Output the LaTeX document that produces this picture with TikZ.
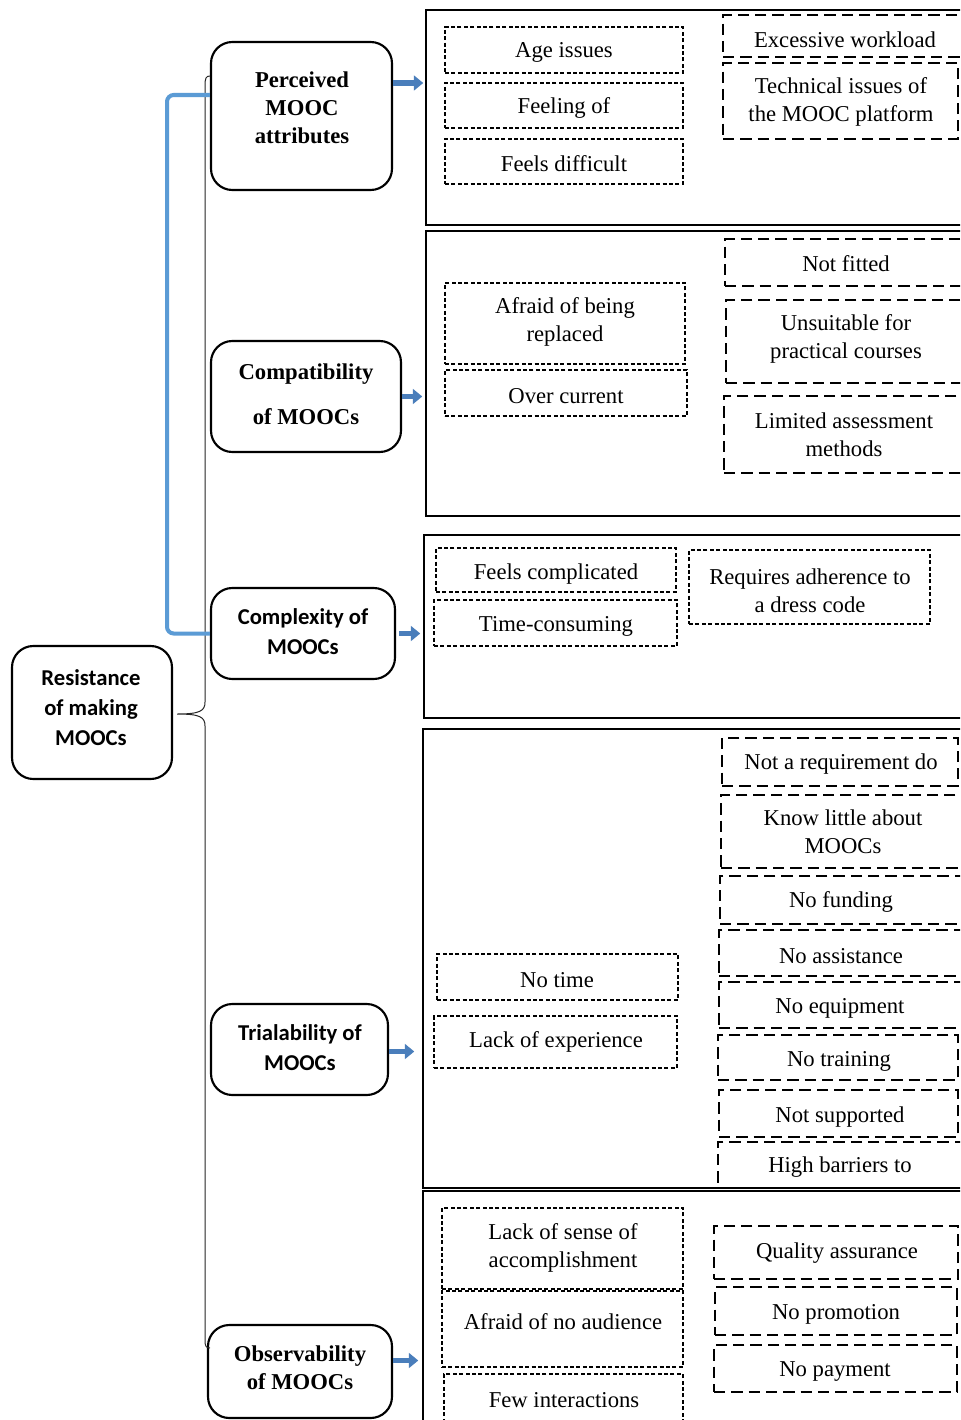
\documentclass[tikz,border=0pt]{standalone}
\usepackage{fontspec}
\setmainfont{Liberation Serif}
\newfontfamily\calib{Carlito}
\usetikzlibrary{fit,calc,arrows.meta}
\definecolor{lineblue}{HTML}{5B9BD5}
\definecolor{arrblue}{HTML}{4A7EBB}
\tikzset{
  catbox/.style={draw, line width=1.6pt, rounded corners=16pt, inner sep=0pt},
  panel/.style={draw, line width=1.1pt, inner sep=0pt},
  fine/.style={draw, line width=1.1pt, dash pattern=on 3pt off 1.8pt, inner sep=0pt},
  coarse/.style={draw, line width=1.4pt, dash pattern=on 8.5pt off 4.5pt, inner sep=0pt},
  txt/.style={font=\fontsize{17}{21}\selectfont, align=center, inner sep=0pt, yshift=-1.5pt},
  btxt/.style={font=\fontsize{17}{21}\selectfont\bfseries, align=center, inner sep=0pt},
  ctxt/.style={font=\calib\fontsize{17}{22.5}\selectfont\bfseries, align=center, inner sep=0pt},
  barrow/.style={arrblue, line width=4pt, -{Triangle[length=7pt,width=11pt]}},
}
\begin{document}
\begin{tikzpicture}[x=0.75pt,y=-0.75pt]
\useasboundingbox (0,0) rectangle (960,1420);
\clip (0,0) rectangle (960,1420);
\fill[white] (0,0) rectangle (960,1420);

% ---------- panels ----------
\node[panel, fit={(426,10) (975,225)}] (p1) {};
\node[panel, fit={(426,231) (975,516)}] (p2) {};
\node[panel, fit={(424,535) (975,718)}] (p3) {};
\node[panel, fit={(423,729) (975,1188)}] (p4) {};
\node[panel, fit={(423,1191) (975,1430)}] (p5) {};

% ---------- category boxes ----------
\node[catbox, fit={(12,646) (172,779)}] (res) {};
\node[ctxt] (rest) at (91,708) {Resistance\\of making\\MOOCs};

\node[catbox, fit={(211,42) (392,190)}] (per) {};
\node[btxt] (pert) at (302,108) {Perceived\\MOOC\\attributes};

\node[catbox, fit={(211,341) (401,452)}] (cmp) {};
\node[btxt] (cmpt) at (306,394) {Compatibility\\[13pt]of MOOCs};

\node[catbox, fit={(211,588) (395,679)}] (cx) {};
\node[ctxt] (cxt) at (303,632) {Complexity of\\MOOCs};

\node[catbox, fit={(211,1004) (388,1095)}] (tri) {};
\node[ctxt] (trit) at (300,1048) {Trialability of\\MOOCs};

\node[catbox, fit={(208,1325) (392,1418)}] (obs) {};
\node[btxt] (obst) at (300,1368) {Observability\\of MOOCs};

% ---------- brace ----------
\coordinate (tip) at ($(res.east)+(4,1.5)$);
\draw[line width=0.75pt, black!85] (210,76) .. controls (206,76) and (205,78) .. (205,86)
  -- (205,702) .. controls (205,711) and (200,714) .. (tip)
  .. controls (200,714) and (205,717) .. (205,726)
  -- (205,1340) .. controls (205,1346) and (206,1348) .. (210,1348);

% ---------- blue line ----------
\draw[lineblue, line width=3pt, rounded corners=5pt]
  ($(per.west)+(0,-21)$) -- (167,95) -- (167,633.5) -- (cx.west);

% ---------- arrows ----------
\coordinate (a1) at ($(per.east)+(0,-33)$);
\draw[barrow] (a1) -- ($(a1 -| p1.west)+(-2,0)$);
\coordinate (a2) at (cmp.east);
\draw[barrow] (a2) -- ($(a2 -| p2.west)+(-3,0)$);
\coordinate (a3) at ($(cx.east)+(3,0)$);
\draw[barrow] (a3) -- ($(a3 -| p3.west)+(-3,0)$);
\coordinate (a4) at ($(tri.east)+(0,2)$);
\draw[barrow] (a4) -- ($(a4 -| p4.west)+(-8,0)$);
\coordinate (a5) at ($(obs.east)+(0,-11)$);
\draw[barrow] (a5) -- ($(a5 -| p5.west)+(-4,0)$);

% ---------- panel 1 ----------
\node[fine, fit={(445,27) (683,73)}] (b11) {};
\node[txt] at (564,50) (t11) {Age issues};
\node[fine, fit={(445,83) (683,128)}] (b12) {};
\node[txt] at (564,106) (t12) {Feeling of};
\node[fine, fit={(445,139) (683,184)}] (b13) {};
\node[txt] at (564,162) (t13) {Feels difficult};
\node[coarse, fit={(723,15) (975,57)}] (b14) {};
\node[txt] at (845,38) (t14) {Excessive workload};
\node[coarse, fit={(723,63) (958,139)}] (b15) {};
\node[txt] at (841,100) (t15) {Technical issues of\\the MOOC platform};

% ---------- panel 2 ----------
\node[fine, fit={(445,283) (685,364)}] (b21) {};
\node[txt] at (565,320) (t21) {Afraid of being\\replaced};
\node[fine, fit={(445,370) (687,416)}] (b22) {};
\node[txt] at (566,394) (t22) {Over current};
\node[coarse, fit={(725,239) (975,286)}] (b23) {};
\node[txt] at (846,262) (t23) {Not fitted};
\node[coarse, fit={(726,300) (975,383)}] (b24) {};
\node[txt] at (846,337) (t24) {Unsuitable for\\practical courses};
\node[coarse, fit={(724,396) (975,473)}] (b25) {};
\node[txt] at (844,433) (t25) {Limited assessment\\methods};

% ---------- panel 3 ----------
\node[fine, fit={(436,548) (676,592)}] (b31) {};
\node[txt] at (556,572) (t31) {Feels complicated};
\node[fine, fit={(434,600) (677,646)}] (b32) {};
\node[txt] at (556,624) (t32) {Time-consuming};
\node[fine, fit={(689,550) (930,624)}] (b33) {};
\node[txt] at (810,589) (t33) {Requires adherence to\\a dress code};

% ---------- panel 4 ----------
\node[fine, fit={(437,954) (678,1000)}] (b41) {};
\node[txt] at (557,978) (t41) {No time};
\node[fine, fit={(434,1016) (677,1068)}] (b42) {};
\node[txt] at (556,1040) (t42) {Lack of experience};
\node[coarse, fit={(722,738) (958,786)}] (b43) {};
\node[txt] at (841,762) (t43) {Not a requirement do};
\node[coarse, fit={(721,795) (975,868)}] (b44) {};
\node[txt] at (843,830) (t44) {Know little about\\MOOCs};
\node[coarse, fit={(720,876) (975,924)}] (b45) {};
\node[txt] at (841,900) (t45) {No funding};
\node[coarse, fit={(719,930) (975,976)}] (b46) {};
\node[txt] at (841,954) (t46) {No assistance};
\node[coarse, fit={(719,982) (975,1028)}] (b47) {};
\node[txt] at (840,1006) (t47) {No equipment};
\node[coarse, fit={(718,1035) (958,1080)}] (b48) {};
\node[txt] at (839,1059) (t48) {No training};
\node[coarse, fit={(719,1090) (958,1137)}] (b49) {};
\node[txt] at (840,1115) (t49) {Not supported};
\node[coarse, fit={(718,1142) (975,1188)}] (b410) {};
\node[txt] at (840,1165) (t410) {High barriers to};

% ---------- panel 5 ----------
\node[fine, fit={(442,1208) (683,1289)}] (b51) {};
\node[txt] at (563,1246) (t51) {Lack of sense of\\accomplishment};
\node[fine, fit={(442,1291) (683,1367)}] (b52) {};
\node[txt] at (563,1320) (t52) {Afraid of no audience};
\node[fine, fit={(444,1374) (683,1440)}] (b53) {};
\node[txt] at (564,1398) (t53) {Few interactions};
\node[coarse, fit={(714,1226) (958,1279)}] (b54) {};
\node[txt] at (837,1251) (t54) {Quality assurance};
\node[coarse, fit={(715,1287) (957,1335)}] (b55) {};
\node[txt] at (836,1312) (t55) {No promotion};
\node[coarse, fit={(714,1345) (957,1392)}] (b56) {};
\node[txt] at (835,1370) (t56) {No payment};
\end{tikzpicture}
\end{document}
